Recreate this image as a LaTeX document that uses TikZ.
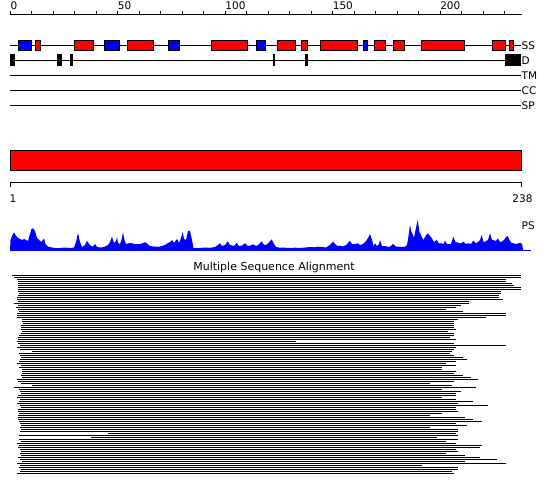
\documentclass[tikz,border=0pt]{standalone}
\usepackage{fontspec}
\setmainfont{DejaVu Sans}
\definecolor{ssred}{RGB}{255,0,0}
\definecolor{ssblue}{RGB}{0,0,255}
\begin{document}
\begin{tikzpicture}[x=1pt,y=-1pt,
  helix/.style={fill=ssred,draw=black,line width=0.8pt},
  strand/.style={fill=ssblue,draw=black,line width=0.8pt},
  disbox/.style={fill=black},
  track/.style={draw=black,line width=0.8pt},
  lab/.style={font=\fontsize{10.5}{12}\selectfont,inner sep=0pt},
  msaline/.style={line width=1pt}]
\useasboundingbox (0,0) rectangle (550,495);
\fill[white] (0,0) rectangle (550,495);
% top axis
\draw[track] (10.3,14.8) -- (521.7,14.8);
\foreach \i in {0,...,23} \draw[track] ({10.3+21.49*\i},11) -- ({10.3+21.49*\i},14.8);
\foreach \v in {0,50,100,150,200}
  \node[lab,anchor=base west] (ax\v) at ({10.3+2.149*\v},10) {\v};
% SS track
\draw[track] (10.3,45.3) -- (520.7,45.3);
\foreach \a/\b in {18.3/31.7,104.3/119.7,168.3/179.7,256.3/265.7,363.3/367.7}
  \draw[strand] (\a,40.5) rectangle (\b,50.3);
\foreach \a/\b in {35.3/40.7,74.3/93.7,127.3/153.7,211.3/247.7,277.7/295.7,301.3/307.7,320.3/357.7,374.3/385.7,393.3/404.7,421.3/464.7,492.3/505.7,509.3/513.7}
  \draw[helix] (\a,40.5) rectangle (\b,50.3);
% D track
\draw[track] (10.3,60.3) -- (520.7,60.3);
\foreach \a/\b in {10/15,57/62,69.7/72.7,272.7/274.5,305/307.7,505/520.7}
  \fill[disbox] (\a,54.5) rectangle (\b,65.8);
% TM CC SP
\foreach \yy in {75.3,90.3,105.3} \draw[track] (10.3,\yy) -- (520.7,\yy);
\node[lab,anchor=west] (lss) at (521.5,45.3) {SS};
\node[lab,anchor=west] (ld) at (521.5,60.3) {D};
\node[lab,anchor=west] (ltm) at (521.5,75.3) {TM};
\node[lab,anchor=west] (lcc) at (521.5,90.3) {CC};
\node[lab,anchor=west] (lsp) at (521.5,105.3) {SP};
% domain bar
\draw[helix] (10.3,150.5) rectangle (521,170.3);
\draw[track] (10.3,182.5) -- (521,182.5);
\draw[track] (10.3,182.5) -- (10.3,187);
\draw[track] (521,182.5) -- (521,187);
\node[lab,anchor=base west] (r1) at (9.5,203) {1};
\node[lab,anchor=base] (r238) at (522.5,203) {238};
% PS profile
\fill[ssblue] plot coordinates {(10,250.7) (10.5,240) (12,236) (14,232.3) (16,236) (18,238) (20,239) (22,240) (24,239) (26,240) (28,241) (30,234) (31.5,229) (33,228.3) (35,231) (37,238) (39,240) (41,242) (43,240) (44,238.3) (45.5,244) (48,246.7) (52,247.5) (55,248) (60,248) (65,247.5) (70,248) (74,247.5) (76,242) (78,232.7) (80,242) (82,247) (85,245) (87,240.7) (89,244) (91,246) (93,246.5) (95,244) (97,247) (100,247.5) (104,247) (108,245) (110,242) (112,236.7) (114,243) (116,241) (117,237) (118,243) (120,244) (122,238) (123,232.3) (124.5,240) (126,244) (130,243) (135,244) (140,244) (143,243) (145,242.3) (147,243.5) (150,246) (155,246.7) (160,246.5) (165,245) (168,243) (170,242) (172,240) (174,243) (177,239) (179,243) (181,238) (182.7,232) (184,239) (186,240) (188,231) (190,231) (192,240) (193.5,248) (200,248) (205,247.5) (210,247.8) (215,247) (218,245) (220,243.3) (222,246) (225,245) (227.7,241.3) (230,245) (234,246) (236.7,243) (239,246) (242,245.5) (245,243.3) (248,246) (252,245) (253,244.3) (256,246) (258,245) (261.7,241.3) (264,245) (267,244.5) (271.7,239.3) (274,244) (276,247) (280,247.7) (285,247.7) (290,248) (295,247.7) (300,248) (305,247.5) (310,247) (314,247.3) (318,246.7) (322,247) (326,247.5) (330,245) (333,241.7) (336,245) (338,246) (340,245.7) (343,246.5) (346,245) (348,243) (350,240.7) (352,244) (355,244) (358,243.3) (360,245) (363,244) (366,241) (368,238) (370,234) (372,240) (373.5,246) (375,243.3) (377,246) (379,244) (380,240) (382,246) (385,246) (388,247) (390,246.5) (393,244) (396,246.5) (400,247) (405,246.7) (407,245) (408.5,236) (410,225) (411.5,232) (413,235) (414,238) (415.5,230) (417.7,220) (419.5,232) (421.7,236.7) (423.5,240) (425.5,236) (427.7,233.3) (430,236) (431.7,238) (434,242) (436.7,240) (439,243.5) (441.7,243.3) (443.5,244) (445,240.7) (447,244) (449,244) (451,244) (453.3,236.7) (455.5,242) (458.3,242.7) (461,243.5) (463.3,241.7) (466,244) (468.3,243.3) (471,244) (473.3,240.7) (476,243.5) (478.3,241.7) (480,240) (481.7,235) (483.5,242) (485,241.7) (488,240) (490,233.3) (492,240) (493.3,240) (496,241) (497.7,238.3) (500,242) (501.7,241.7) (504,240) (506,237) (507.7,236) (509.5,240) (511.5,243) (513.3,243.3) (516,244) (518,243.5) (520,242.7) (522,244) (523.3,250.7)} -- cycle;
\draw[ssblue,line width=1pt] (10,250.7) -- (531,250.7);
\node[lab,anchor=west] (lps) at (521.5,226) {PS};
% MSA
\node[font=\fontsize{11}{13}\selectfont,inner sep=0pt,anchor=base] (msatitle) at (274,270) {Multiple Sequence Alignment};
\foreach \l/\r [count=\i] in {12.3/737,14.3/737,17.3/692,18.3/692,18.3/710,18.3/716,18.3/737,18.3/737,18.3/677,19.3/677,18.3/671,17.3/671,16.7/683,18.3/581,14.3/581,18.3/557,15.7/542,18.3/512,19.3/563,16.7/692,16.7/692,16.7/632,21.7/548,21.7/536,22.7/536,20.7/536,20.7/536,20.7/542,21.7/518,20.7/536,19.3/536,18.3/524,18.3/542,16.7/62,18.3/536,20/692,16.7/542,20/536,31.7/530,19.3/524,20/536,20.7/563,20/575,19.3/542,16.7/512,20.7/542,19.3/500,22.3/500,21.7/542,21.7/536,20.7/563,21.7/587,16.7/608,18.3/536,20.7/466,31.7/530,14.3/602,19.3/502,20/557,20.7/542,18.3/542,17.3/502,20/542,19.3/593,16.7/548,20/638,20.7/542,18.3/542,18.3/548,19.3/502,18.3/466,18.3/569,18.3/593,19.3/620,20/542,20.7/575,20/466,20.7/548,20/548,108.3/542,19.3/548,91/485,19.3/548,20.7/512,16.7/542,19.3/620,18.3/614,20/542,20.7/548,20/512,20.7/569,18.3/614,20/665,21.7/569,16.7/692,20/440,19.3/548,20.7/548,20/530,16.7/536}
  \draw[msaline] (\l,{273.5+2*\i}) -- ({\r/3+275},{273.5+2*\i});
\end{tikzpicture}
\end{document}
